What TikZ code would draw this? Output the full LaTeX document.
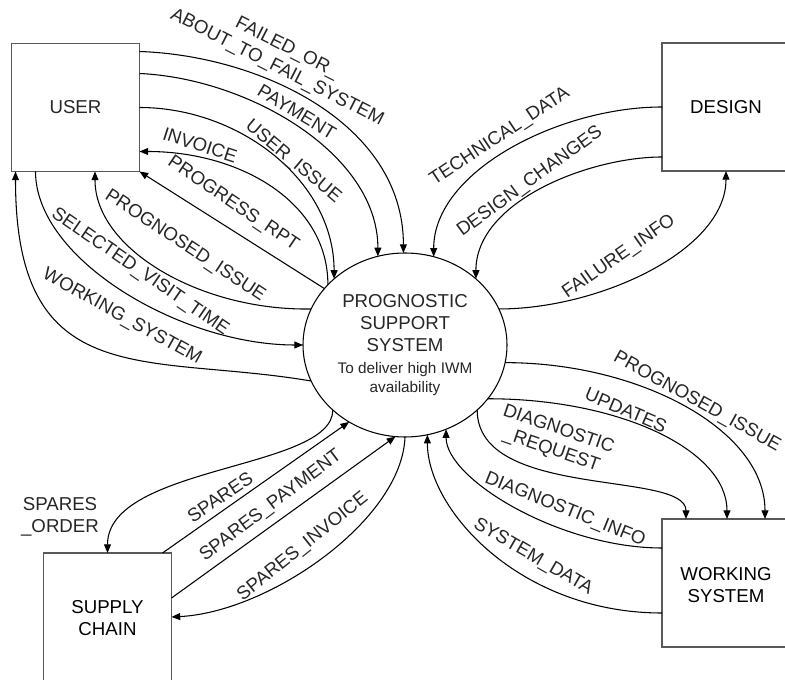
\documentclass[tikz,border=0pt]{standalone}
\usepackage{fontspec}
\setmainfont{Liberation Sans}
\usetikzlibrary{arrows.meta,shapes.geometric,calc}
\newcommand{\subtxt}{\fontsize{11.5}{13.5}\selectfont}

\begin{document}
\begin{tikzpicture}
  [x=0.75pt,y=-0.75pt,
  every node/.style={font=\fontsize{14}{16.5}\selectfont},
  entity/.style={rectangle,draw=black!65,line width=1.1pt,fill=white,align=center,
                  minimum size=96pt,inner sep=0,outer sep=0,text=black!85},
  proc/.style={ellipse,draw=black,line width=0.8pt,align=center,
                  minimum width=153pt,minimum height=138pt,inner sep=0,outer sep=0,
                  text=black!85},
  flow/.style={draw=black,line width=0.8pt,-{Triangle[length=6.5pt,width=5.2pt]}},
  flowlbl/.style={text=black!85,align=center,inner sep=0}
                  ]
  \useasboundingbox (0,0) rectangle (785,680);
  \clip (0,0) rectangle (785,680);

  \node[entity] (user) at (75.5,107.5) {USER};
%  right and bottom boxes run past the edge of the page
  \node[entity,minimum width=102pt] (design) at (730,107) {};
  \node (designt) at (726,107) {DESIGN};
  \node[entity,minimum width=102pt] (worksys) at (730,583) {};
  \node[align=center] (worksyst) at (726,585) {WORKING\\SYSTEM};
  \node[entity,minimum height=102pt] (supply) at (107.5,621) {};
  \node[align=center] (supplyt) at (107.5,618) {SUPPLY\\CHAIN};
  \node[proc] (pss) at (405,345) {PROGNOSTIC\\SUPPORT\\SYSTEM\\
    \subtxt To deliver high IWM\\[-2pt]\subtxt availability};

  % user side
  \draw[flow] ($(user.north east)+(0,8)$) .. controls +(120,4) and +(0,-130) .. (pss.91);
  \draw[flow] ($(user.north east)+(0,30)$) .. controls +(110,5) and +(0,-102) .. (pss.107);
  \draw[flow] (user.east) .. controls +(100,0) and +(0,-98) .. (pss.137);
  \draw[flow] (pss.142) .. controls +(0,-83) and +(100,0) .. ($(user.east)+(0,44)$);
  \draw[flow] (pss.145) -- (user.south east);
  \draw[flow] (pss.159) .. controls +(-110,2) and +(0,78) .. ($(user.south)+(19.5,0)$);
  \draw[flow] ($(user.south west)+(24,0)$) .. controls +(0,88) and +(-122,0) .. (pss.180);
  \draw[flow] (pss.201) .. controls +(-164,-28) and +(0,223) .. ($(user.south west)+(4,0)$);

  % design side
  \draw[flow] (design.west) .. controls +(-102,0) and +(0,-86) .. (pss.72);
  \draw[flow] ($(design.west)+(0,50)$) .. controls +(-72,0) and +(0,-78) .. (pss.43);
  \draw[flow] (pss.21) .. controls +(101,0) and +(0,79) .. ($(design.south)+(-4,0)$);

  % supply chain side
  \draw[flow] (pss.222) .. controls +(0,60) and +(0,-88) .. (supply.north);
  \draw[flow] ($(supply.north east)+(-9,0)$) -- (pss.234);
  \draw[flow] ($(supply.north east)+(0,45)$) -- (pss.264);
  \draw[flow] (pss.270) .. controls +(-3,83) and +(98,-5) .. ($(supply.north east)+(0,64)$);

  % working system side
  \draw[flow] (pss.350) .. controls +(135,0) and +(0,-89) .. ($(worksys.north)+(35,0)$);
  \draw[flow] (pss.327) .. controls +(132,0) and +(0,-69) .. ($(worksys.north)+(-3,0)$);
  \draw[flow] (pss.318) .. controls +(0,90) and +(0,-49) .. ($(worksys.north)+(-44,0)$);
  \draw[flow] ($(worksys.west)+(0,-35)$) .. controls +(-102,0) and +(0,50) .. (pss.296);
  \draw[flow] ($(worksys.west)+(0,30)$) .. controls +(-142,0) and +(0,75) .. (pss.284);

  \node[flowlbl,rotate=-27] (tfail) at (282,58) {FAILED\_OR\_\\ABOUT\_TO\_FAIL\_SYSTEM};
  \node[flowlbl,rotate=-31] (tpay) at (297,112) {PAYMENT};
  \node[flowlbl,rotate=-40] (tissue) at (293,162) {USER\_ISSUE};
  \node[flowlbl,rotate=-18] (tinv) at (200,145) {INVOICE};
  \node[flowlbl,rotate=-34] (trpt) at (233,204) {PROGRESS\_RPT};
  \node[flowlbl,rotate=-33.5] (tprog1) at (185,246) {PROGNOSED\_ISSUE};
  \node[flowlbl,rotate=-34.5] (tvisit) at (140,272) {SELECTED\_VISIT\_TIME};
  \node[flowlbl,rotate=-29] (twork) at (122,317) {WORKING\_SYSTEM};
  \node[flowlbl,rotate=33.5] (ttech) at (500,137) {TECHNICAL\_DATA};
  \node[flowlbl,rotate=36] (tchg) at (530,182) {DESIGN\_CHANGES};
  \node[flowlbl,rotate=35] (tfinfo) at (619,257) {FAILURE\_INFO};
  \node[flowlbl] (torder) at (60,517) {SPARES\\\_ORDER};
  \node[flowlbl,rotate=34] (tspares) at (220,497) {SPARES};
  \node[flowlbl,rotate=37] (tspay) at (271,506) {SPARES\_PAYMENT};
  \node[flowlbl,rotate=38.7] (tsinv) at (303,547) {SPARES\_INVOICE};
  \node[flowlbl,rotate=-29] (tprog2) at (697,402) {PROGNOSED\_ISSUE};
  \node[flowlbl,rotate=-23] (tupd) at (626,410) {UPDATES};
  \node[flowlbl,rotate=-19] (treq) at (555,440) {DIAGNOSTIC\\\_REQUEST};
  \node[flowlbl,rotate=-22] (tdinfo) at (565,510) {DIAGNOSTIC\_INFO};
  \node[flowlbl,rotate=-30] (tsdata) at (533,557) {SYSTEM\_DATA};
\end{tikzpicture}
\end{document}
